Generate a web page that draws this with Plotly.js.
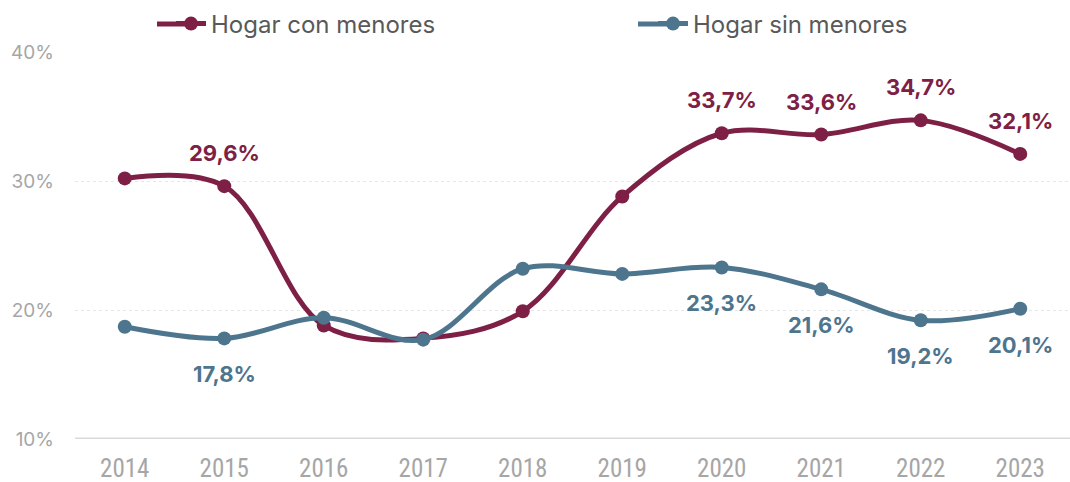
<!DOCTYPE html>
<html>
<head>
<meta charset="utf-8">
<script src="https://cdn.plot.ly/plotly-3.0.1.min.js"></script>
<style>html,body{margin:0;padding:0;background:#fff;}#chart{width:1070px;height:482px;}</style>
</head>
<body>
<div id="chart"></div>
<script>
const years = ['2014','2015','2016','2017','2018','2019','2020','2021','2022','2023'];
const conMenores = [30.2, 29.6, 18.8, 17.8, 19.9, 28.8, 33.7, 33.6, 34.7, 32.1];
const sinMenores = [18.7, 17.8, 19.4, 17.7, 23.2, 22.8, 23.3, 21.6, 19.2, 20.1];
const conLabelYears = ['2015','2020','2021','2022','2023'];
const sinLabelYears = ['2015','2020','2021','2022','2023'];
const yTicks = [10, 20, 30, 40];
const yTickText = ['10%', '20%', '30%', '40%'];

const colCon = '#7e2046';
const colSin = '#4e758e';

function fmt(v){ return v.toFixed(1).replace('.', ',') + '%'; }

const traces = [
  {x: years, y: conMenores, name: 'Hogar con menores', type: 'scatter', mode: 'lines+markers', legend: 'legend',
   line: {color: colCon, width: 5, shape: 'spline', smoothing: 1}, marker: {color: colCon, size: 14}},
  {x: years, y: sinMenores, name: 'Hogar sin menores', type: 'scatter', mode: 'lines+markers', legend: 'legend2',
   line: {color: colSin, width: 5, shape: 'spline', smoothing: 1}, marker: {color: colSin, size: 14}}
];

const annotations = [];
conLabelYears.forEach(function(yr){
  const i = years.indexOf(yr);
  annotations.push({xref: 'x', yref: 'y', x: i, y: conMenores[i], text: '<b>' + fmt(conMenores[i]) + '</b>',
    showarrow: false, yshift: 33,
    font: {family: 'Inter, sans-serif', size: 22, color: colCon}});
});
sinLabelYears.forEach(function(yr){
  const i = years.indexOf(yr);
  annotations.push({xref: 'x', yref: 'y', x: i, y: sinMenores[i], text: '<b>' + fmt(sinMenores[i]) + '</b>',
    showarrow: false, yshift: -36,
    font: {family: 'Inter, sans-serif', size: 22, color: colSin}});
});

// paper-coordinate helpers for legend symbol extension
const plotL = 75, plotW = 995, plotB = 439, plotH = 387;
function px(x){ return (x - plotL) / plotW; }
function py(y){ return (plotB - y) / plotH; }

const legendFont = {family: 'Inter, sans-serif', size: 24, color: '#595959'};
const layout = {
  width: 1070, height: 482,
  margin: {l: 75, r: 0, t: 52, b: 43, autoexpand: false},
  paper_bgcolor: '#fff', plot_bgcolor: '#fff',
  showlegend: true,
  legend: {orientation: 'h', xref: 'container', yref: 'container', x: 171/1070, xanchor: 'left',
    y: 1 - 24/482, yanchor: 'middle', font: legendFont, bgcolor: 'rgba(0,0,0,0)'},
  legend2: {orientation: 'h', xref: 'container', yref: 'container', x: 653/1070, xanchor: 'left',
    y: 1 - 24/482, yanchor: 'middle', font: legendFont, bgcolor: 'rgba(0,0,0,0)'},
  xaxis: {type: 'category', showgrid: false, zeroline: false, showline: false, ticks: '',
    tickfont: {family: '"Liberation Sans Narrow", "Roboto Condensed", "Liberation Sans", sans-serif', size: 25, color: '#a6a6a6'},
    ticklabelstandoff: 12, range: [-0.5, 9.5]},
  yaxis: {range: [10, 40], tickvals: yTicks, ticktext: yTickText, showgrid: true,
    gridcolor: '#e6e6e6', gridwidth: 1, griddash: 'dot', zeroline: false, showline: false, ticks: '',
    tickfont: {family: 'Inter, sans-serif', size: 19, color: '#a6a6a6'}, ticklabelstandoff: 20},
  shapes: [
    {type: 'line', xref: 'paper', yref: 'y', x0: 0, x1: 1, y0: 10, y1: 10,
     line: {color: '#d9d9d9', width: 3}, layer: 'below'},
    {type: 'line', xref: 'paper', yref: 'paper', x0: px(157), x1: px(185), y0: py(24), y1: py(24),
     line: {color: colCon, width: 5}, layer: 'above'},
    {type: 'line', xref: 'paper', yref: 'paper', x0: px(638), x1: px(667), y0: py(24), y1: py(24),
     line: {color: colSin, width: 5}, layer: 'above'}
  ],
  annotations: annotations
};

Plotly.newPlot('chart', traces, layout, {displayModeBar: false});
</script>
</body>
</html>
